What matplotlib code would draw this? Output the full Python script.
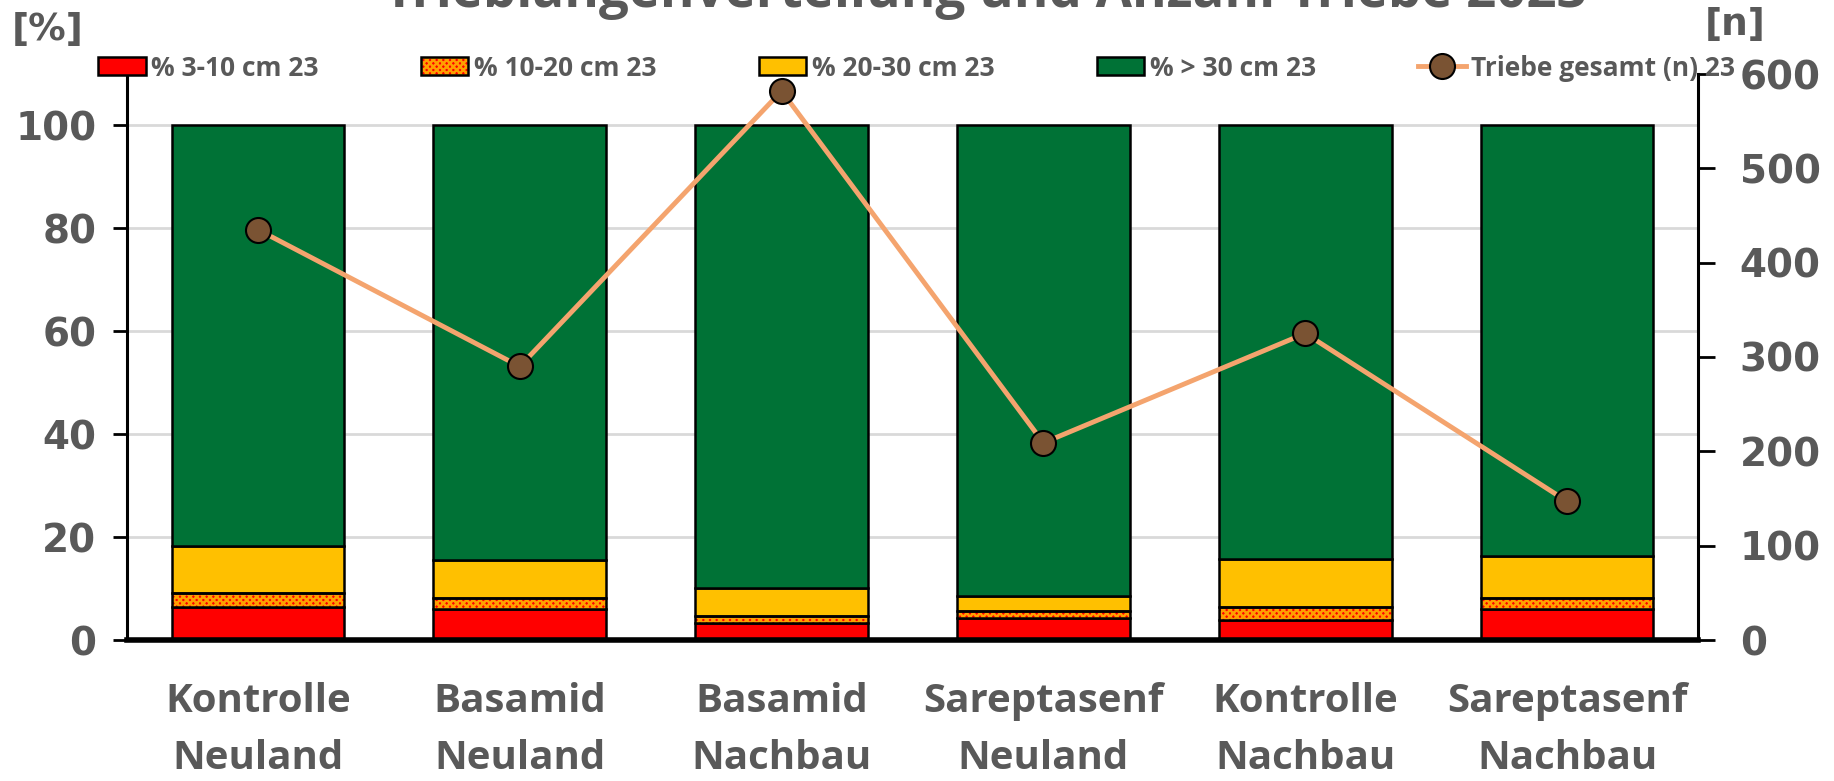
import numpy as np
import matplotlib
matplotlib.use("Agg")
import matplotlib.pyplot as plt
from matplotlib.patches import Patch
from matplotlib.lines import Line2D
from matplotlib.legend_handler import HandlerTuple

categories = ["Kontrolle\nNeuland", "Basamid\nNeuland", "Basamid\nNachbau",
              "Sareptasenf\nNeuland", "Kontrolle\nNachbau", "Sareptasenf\nNachbau"]
pct_3_10  = [6.4, 6.1, 3.4, 4.2, 3.9, 6.1]
pct_10_20 = [2.7, 2.1, 1.2, 1.5, 2.6, 2.0]
pct_20_30 = [9.2, 7.3, 5.5, 2.9, 9.2, 8.2]
pct_gt30  = [81.7, 84.5, 89.9, 91.4, 84.3, 83.7]
triebe_n  = [435, 290, 582, 209, 325, 147]

series_labels = ["% 3-10 cm 23", "% 10-20 cm 23", "% 20-30 cm 23", "% > 30 cm 23",
                 "Triebe gesamt (n) 23"]

GREY   = "#595959"
RED    = "#FF0000"
ORANGE = "#FFA000"
YELLOW = "#FFC000"
GREEN  = "#007236"
LINE_C = "#F4A46E"
MARK_C = "#7A5333"

plt.rcParams["hatch.linewidth"] = 1.8

fig = plt.figure(figsize=(18.34, 7.81), dpi=100)
ax = fig.add_axes([127 / 1834, 1 - 640 / 781, (1698 - 127) / 1834, (640 - 74) / 781])

x = np.arange(len(categories))
w = 0.66
kw = dict(width=w, edgecolor="black", linewidth=1.8, zorder=3)

bottom = np.zeros(len(x))
ax.bar(x, pct_3_10, bottom=bottom, color=RED, **kw)
bottom += pct_3_10
# hatched layer: fill + hatch first, outline on top
ax.bar(x, pct_10_20, bottom=bottom, width=w, facecolor=RED, edgecolor=ORANGE,
       hatch="xxxxx", linewidth=0, zorder=3)
ax.bar(x, pct_10_20, bottom=bottom, width=w, fill=False, edgecolor="black",
       linewidth=1.8, zorder=3.1)
bottom += pct_10_20
ax.bar(x, pct_20_30, bottom=bottom, color=YELLOW, **kw)
bottom += pct_20_30
ax.bar(x, pct_gt30, bottom=bottom, color=GREEN, **kw)

ax.set_xlim(-0.5, len(x) - 0.5)
ax.set_ylim(0, 110)
ax.set_yticks(np.arange(0, 101, 20))
ax.yaxis.grid(True, color="#D9D9D9", linewidth=2)
ax.set_axisbelow(True)
ax.set_xticks(x)
ax.set_xticklabels(categories, fontsize=29, fontweight="bold", color=GREY,
                   family="Open Sans", linespacing=1.62)
ax.tick_params(axis="x", length=0, pad=30)
ax.tick_params(axis="y", direction="out", length=10, width=2, pad=12,
               labelsize=28, labelcolor=GREY)
for lab in ax.get_yticklabels():
    lab.set_fontweight("bold")
ax.spines["top"].set_visible(False)
ax.spines["right"].set_visible(False)
ax.spines["left"].set_linewidth(2.2)
ax.spines["bottom"].set_linewidth(4)
ax.spines["bottom"].set_zorder(5)

ax2 = ax.twinx()
ax2.plot(x, triebe_n, color=LINE_C, linewidth=3.5, marker="o", markersize=18,
         markerfacecolor=MARK_C, markeredgecolor="black", markeredgewidth=1.5,
         zorder=4, clip_on=False)
ax2.set_ylim(0, 600)
ax2.set_yticks(np.arange(0, 601, 100))
ax2.tick_params(axis="y", direction="out", length=12, width=2, pad=18,
                labelsize=28, labelcolor=GREY)
for lab in ax2.get_yticklabels():
    lab.set_fontweight("bold")
for s in ["top", "left", "bottom"]:
    ax2.spines[s].set_visible(False)
ax2.spines["right"].set_linewidth(2.2)

fig.text(12 / 1834, 1 - 30 / 781, "[%]", fontsize=27, fontweight="bold",
         color=GREY, va="center", ha="left")
fig.text(1705 / 1834, 1 - 25 / 781, "[n]", fontsize=27, fontweight="bold",
         color=GREY, va="center", ha="left")
fig.text(985 / 1834, 1 - 7 / 781, "Trieblangenverteilung und Anzahl Triebe 2023",
         fontsize=38, fontweight="bold", color=GREY, family="Open Sans",
         ha="center", va="baseline")

hatch_h = (Patch(facecolor=RED, edgecolor=ORANGE, hatch="xxxxx", linewidth=0),
           Patch(fill=False, edgecolor="black", linewidth=1.8))
handles = [Patch(facecolor=RED, edgecolor="black", linewidth=1.8),
           hatch_h,
           Patch(facecolor=YELLOW, edgecolor="black", linewidth=1.8),
           Patch(facecolor=GREEN, edgecolor="black", linewidth=1.8),
           Line2D([], [], color=LINE_C, linewidth=3.5, marker="o", markersize=18,
                  markerfacecolor=MARK_C, markeredgecolor="black",
                  markeredgewidth=1.5)]
leg = fig.legend(handles, series_labels, loc="center left", ncol=5,
                 bbox_to_anchor=(98 / 1834, 1 - 68 / 781, (1735 - 98) / 1834, 0),
                 mode="expand", frameon=False, borderaxespad=0, borderpad=0,
                 handlelength=1.8, handleheight=0.67, handletextpad=0.2,
                 handler_map={tuple: HandlerTuple(ndivide=1, pad=0)},
                 prop={"family": "Open Sans", "weight": "bold", "size": 19})
for t in leg.get_texts():
    t.set_color(GREY)

fig.savefig("out.png", dpi=100)
